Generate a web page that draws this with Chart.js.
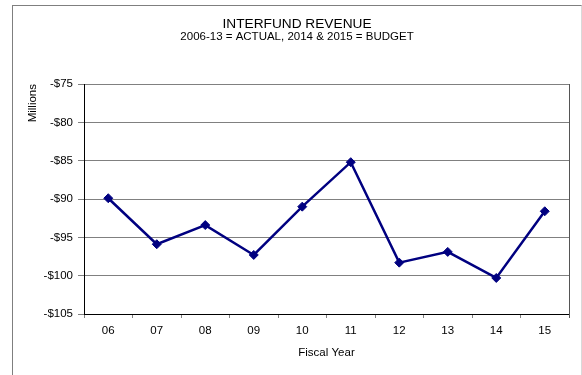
<!DOCTYPE html>
<html>
<head>
<meta charset="utf-8">
<script src="https://cdn.jsdelivr.net/npm/chart.js@4/dist/chart.umd.min.js"></script>
<style>
  html, body { margin: 0; padding: 0; background: #ffffff; }
  body { width: 582px; height: 375px; position: relative; overflow: hidden; }
  #frame {
    position: absolute; left: 12px; top: 5px; width: 568px; height: 380px;
    border-left: 1px solid #7f7f7f; border-top: 1px solid #7f7f7f; border-right: 1px solid #d9d9d9;
  }
  #wrap { position: absolute; left: 0; top: 0; width: 568px; height: 369px; }
</style>
</head>
<body>
<div id="frame"><div id="wrap"><canvas id="chart"></canvas></div></div>
<script>
// Fiscal years (2006-2015) and interfund revenue in millions of dollars
const fiscalYears = ['06', '07', '08', '09', '10', '11', '12', '13', '14', '15'];
const revenue = [-89.9, -95.9, -93.4, -97.3, -91.0, -85.2, -98.3, -96.9, -100.3, -91.6];
const yTicks = [-105, -100, -95, -90, -85, -80, -75];

const titleText = 'INTERFUND REVENUE';
const subtitleText = '2006-13 = ACTUAL, 2014 & 2015 = BUDGET';

const FONT = 'Liberation Sans, Arial, sans-serif';

// closes the plot box on its right side
const plotBorder = {
  id: 'plotBorder',
  afterDraw(chart) {
    const { ctx, chartArea: a } = chart;
    ctx.save();
    ctx.strokeStyle = '#555555';
    ctx.lineWidth = 1;
    ctx.beginPath();
    ctx.moveTo(Math.round(a.right) + 0.5, a.top);
    ctx.lineTo(Math.round(a.right) + 0.5, a.bottom + 4);
    ctx.stroke();
    ctx.restore();
  }
};

new Chart(document.getElementById('chart'), {
  type: 'line',
  data: {
    labels: fiscalYears,
    datasets: [{
      data: revenue,
      borderColor: '#000080',
      backgroundColor: '#000080',
      borderWidth: 2.5,
      tension: 0,
      pointStyle: 'rectRot',
      pointRadius: 4.5,
      pointHoverRadius: 4.5,
      pointBorderWidth: 1
    }]
  },
  options: {
    responsive: true,
    maintainAspectRatio: false,
    animation: false,
    layout: { padding: { left: 12, right: 12, top: 0, bottom: 0 } },
    plugins: {
      legend: { display: false },
      tooltip: { enabled: false },
      title: {
        display: true,
        text: titleText,
        color: '#000000',
        font: { family: FONT, size: 13.7, weight: 'normal', lineHeight: 1 },
        padding: { top: 11, bottom: 0 }
      },
      subtitle: {
        display: true,
        text: subtitleText,
        color: '#000000',
        font: { family: FONT, size: 11.5, weight: 'normal', lineHeight: 1 },
        padding: { top: 0.5, bottom: 41.3 }
      }
    },
    scales: {
      x: {
        type: 'category',
        offset: true,
        afterFit(scale) { scale.height = 61; },
        border: { display: true, color: '#000000', width: 1 },
        grid: {
          offset: true,
          drawOnChartArea: false,
          drawTicks: true,
          tickLength: 4,
          color: '#808080'
        },
        ticks: {
          color: '#000000',
          padding: 6,
          maxRotation: 0,
          font: { family: FONT, size: 11.5 }
        },
        title: {
          display: true,
          text: 'Fiscal Year',
          color: '#000000',
          font: { family: FONT, size: 11.5 },
          padding: { top: 0, bottom: 15 }
        }
      },
      y: {
        min: yTicks[0],
        max: yTicks[yTicks.length - 1],
        afterFit(scale) { scale.width = 59; },
        afterBuildTicks(scale) { scale.ticks = yTicks.map(v => ({ value: v })); },
        border: { display: true, color: '#000000', width: 1 },
        grid: {
          color: '#808080',
          lineWidth: 1,
          drawTicks: true,
          tickLength: 6
        },
        ticks: {
          color: '#000000',
          padding: 5,
          font: { family: FONT, size: 11.5 },
          callback: v => '-$' + Math.abs(v)
        },
        title: {
          display: true,
          text: 'Millions',
          align: 'end',
          color: '#000000',
          font: { family: FONT, size: 11.5 },
          padding: { top: 1, bottom: 0 }
        }
      }
    }
  },
  plugins: [plotBorder]
});
</script>
</body>
</html>
